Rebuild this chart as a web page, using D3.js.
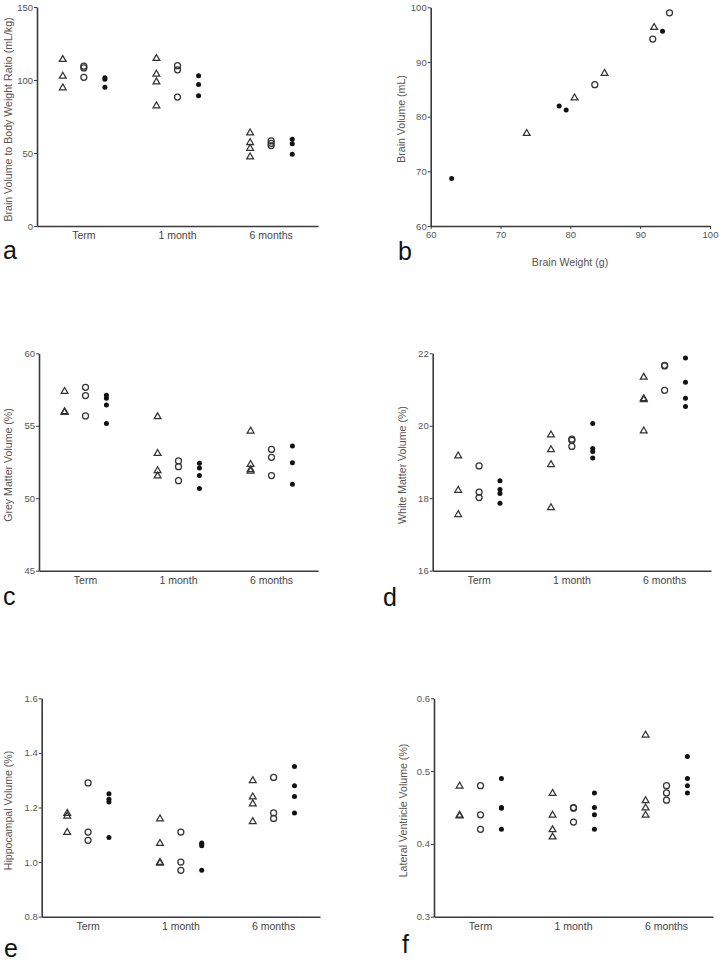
<!DOCTYPE html>
<html><head><meta charset="utf-8">
<script src="https://cdn.jsdelivr.net/npm/d3@7"></script>
<style>
html,body{margin:0;padding:0;background:#fff;}
svg{display:block;font-family:"Liberation Sans",Arial,sans-serif;}
</style></head>
<body>
<svg id="chart" width="728" height="963"></svg>
<script>
// ---- data ----
const categories = ["Term", "1 month", "6 months"];
const groups = ["triangle", "circle", "dot"];

// panel a: brain volume to body weight ratio (mL/kg) [triangles, circles, dots] per category
const ratioTri  = [[114.3, 102.9, 94.9], [115, 104.3, 99, 82.6], [64, 57.4, 53.5, 47.6]];
const ratioCirc = [[109.5, 108.3, 101.8], [109.8, 107, 88.3], [58.3, 56.6, 55.1]];
const ratioDot  = [[101.5, 100.5, 95.1], [102.9, 97, 89.2], [59.5, 56.3, 49.2]];
const ratioTicks = [0, 50, 100, 150];

// panel b: brain weight (g) vs brain volume (mL)
const bTriW = [73.75, 80.6, 84.9, 92.0];
const bTriV = [77.0, 83.5, 88.0, 96.4];
const bCircW = [83.5, 91.8, 94.2];
const bCircV = [85.85, 94.2, 99.0];
const bDotW = [63.0, 78.4, 79.4, 93.2];
const bDotV = [68.7, 81.95, 81.2, 95.6];
const weightTicks = [60, 70, 80, 90, 100];
const volumeTicks = [60, 70, 80, 90, 100];

// panel c: grey matter volume (%)
const greyTri  = [[57.4, 56.0, 55.95], [55.65, 53.12, 51.93, 51.56], [54.66, 52.36, 52.0, 51.9]];
const greyCirc = [[57.65, 57.08, 55.68], [52.57, 52.18, 51.21], [53.37, 52.82, 51.56]];
const greyDot  = [[57.1, 56.9, 56.43, 55.15], [52.41, 52.09, 51.56, 50.68], [53.6, 52.45, 50.96]];
const greyTicks = [45, 50, 55, 60];

// panel d: white matter volume (%)
const whiteTri  = [[19.18, 18.23, 17.56], [19.76, 19.35, 18.94, 17.75], [21.35, 20.76, 20.73, 19.87]];
const whiteCirc = [[18.89, 18.17, 18.02], [19.63, 19.6, 19.43], [21.67, 21.65, 20.98]];
const whiteDot  = [[18.48, 18.24, 18.13, 17.86], [20.06, 19.37, 19.29, 19.11], [21.87, 21.2, 20.76, 20.53]];
const whiteTicks = [16, 18, 20, 22];

// panel e: hippocampal volume (%)
const hippoTri  = [[1.18, 1.17, 1.11], [1.16, 1.07, 1.0, 0.998], [1.3, 1.24, 1.215, 1.15]];
const hippoCirc = [[1.29, 1.11, 1.08], [1.11, 1.0, 0.97], [1.31, 1.18, 1.16]];
const hippoDot  = [[1.25, 1.23, 1.22, 1.09], [1.07, 1.065, 1.06, 0.97], [1.35, 1.28, 1.24, 1.18]];
const hippoTicks = [0.8, 1.0, 1.2, 1.4, 1.6];

// panel f: lateral ventricle volume (%)
const ventTri  = [[0.48, 0.44, 0.439], [0.47, 0.44, 0.42, 0.41], [0.55, 0.46, 0.45, 0.44]];
const ventCirc = [[0.48, 0.44, 0.42], [0.45, 0.449, 0.43], [0.48, 0.47, 0.46]];
const ventDot  = [[0.49, 0.45, 0.449, 0.42], [0.47, 0.45, 0.44, 0.42], [0.52, 0.49, 0.48, 0.47]];
const ventTicks = [0.3, 0.4, 0.5, 0.6];

// ---- drawing ----
const svg = d3.select("#chart");
const AX = "#3a3a3a", TXT = "#555";
const triPath = d3.symbol().type(d3.symbolTriangle).size(20)();

function styleAxis(g) {
  g.select(".domain").attr("stroke", AX).attr("stroke-width", 1.6);
  g.selectAll(".tick line").attr("stroke", AX).attr("stroke-width", 1);
  g.selectAll(".tick text").attr("fill", TXT).style("font-size", "9.5px");
}

function drawMarker(g, type, x, y) {
  if (type === "triangle") {
    g.append("path").attr("d", triPath).attr("transform", `translate(${x},${y + 0.4})`)
      .attr("fill", "none").attr("stroke", "#333").attr("stroke-width", 1.25);
  } else if (type === "circle") {
    g.append("circle").attr("cx", x).attr("cy", y).attr("r", 3.0)
      .attr("fill", "none").attr("stroke", "#333").attr("stroke-width", 1.25);
  } else {
    g.append("circle").attr("cx", x).attr("cy", y).attr("r", 2.5).attr("fill", "#111");
  }
}

function yLabel(text, x, y) {
  svg.append("text").attr("transform", `translate(${x},${y}) rotate(-90)`)
    .attr("text-anchor", "middle").attr("fill", TXT).style("font-size", "10.6px").text(text);
}
function letter(t, x, y) {
  svg.append("text").attr("x", x).attr("y", y).attr("fill", "#111")
    .style("font-size", "25px").text(t);
}

function catPanel(p) {
  const g = svg.append("g");
  const x = d3.scaleBand().domain(categories).range(p.xr);
  const sub = d3.scalePoint().domain(groups).range([-x.bandwidth() * 0.225, x.bandwidth() * 0.225]);
  const y = d3.scaleLinear().domain(d3.extent(p.ticks)).range(p.yr);
  const xa = g.append("g").attr("transform", `translate(0,${p.yr[0]})`)
    .call(d3.axisBottom(x).tickSize(0).tickPadding(6).tickSizeOuter(0));
  styleAxis(xa);
  xa.selectAll(".tick text").attr("fill", "#444").style("font-size", "10.5px");
  const ya = g.append("g").attr("transform", `translate(${p.xr[0]},0)`)
    .call(d3.axisLeft(y).tickValues(p.ticks).tickSize(3).tickPadding(1).tickSizeOuter(0)
      .tickFormat(p.fmt || d3.format("d")));
  styleAxis(ya);
  p.series.forEach((ser, si) => {
    ser.forEach((vals, ci) => {
      vals.forEach(v => drawMarker(g, groups[si], x(categories[ci]) + x.bandwidth() / 2 + sub(groups[si]), y(v)));
    });
  });
  yLabel(p.label, p.lx, (p.yr[0] + p.yr[1]) / 2 + 3);
  letter(p.letter, p.letterXY[0], p.letterXY[1]);
}

catPanel({ xr: [37, 318], yr: [226, 7], ticks: ratioTicks, series: [ratioTri, ratioCirc, ratioDot],
  label: "Brain Volume to Body Weight Ratio (mL/kg)", lx: 12, letter: "a", letterXY: [3, 259] });
catPanel({ xr: [39, 318], yr: [570.7, 353.3], ticks: greyTicks, series: [greyTri, greyCirc, greyDot],
  label: "Grey Matter Volume (%)", lx: 12, letter: "c", letterXY: [3, 605] });
catPanel({ xr: [432.7, 711], yr: [570.7, 353.3], ticks: whiteTicks, series: [whiteTri, whiteCirc, whiteDot],
  label: "White Matter Volume (%)", lx: 406, letter: "d", letterXY: [383, 606] });
catPanel({ xr: [41.7, 320], yr: [916.7, 698.3], ticks: hippoTicks, series: [hippoTri, hippoCirc, hippoDot],
  label: "Hippocampal Volume (%)", lx: 12, letter: "e", letterXY: [4, 957], fmt: d3.format(".1f") });
catPanel({ xr: [434, 713], yr: [916.7, 698.3], ticks: ventTicks, series: [ventTri, ventCirc, ventDot],
  label: "Lateral Ventricle Volume (%)", lx: 407, letter: "f", letterXY: [402, 953], fmt: d3.format(".1f") });

// panel b scatter
(function () {
  const g = svg.append("g");
  const x = d3.scaleLinear().domain(d3.extent(weightTicks)).range([430.7, 710]);
  const y = d3.scaleLinear().domain(d3.extent(volumeTicks)).range([226, 7.3]);
  const xa = g.append("g").attr("transform", "translate(0,226)")
    .call(d3.axisBottom(x).tickValues(weightTicks).tickSize(3).tickPadding(2).tickSizeOuter(0));
  styleAxis(xa);
  const ya = g.append("g").attr("transform", "translate(430.7,0)")
    .call(d3.axisLeft(y).tickValues(volumeTicks).tickSize(3).tickPadding(1).tickSizeOuter(0));
  styleAxis(ya);
  bTriW.forEach((w, i) => drawMarker(g, "triangle", x(w), y(bTriV[i])));
  bCircW.forEach((w, i) => drawMarker(g, "circle", x(w), y(bCircV[i])));
  bDotW.forEach((w, i) => drawMarker(g, "dot", x(w), y(bDotV[i])));
  yLabel("Brain Volume (mL)", 405, 119);
  svg.append("text").attr("x", 570).attr("y", 266).attr("text-anchor", "middle")
    .attr("fill", TXT).style("font-size", "10.6px").text("Brain Weight (g)");
  letter("b", 398, 260);
})();
</script>
</body></html>
